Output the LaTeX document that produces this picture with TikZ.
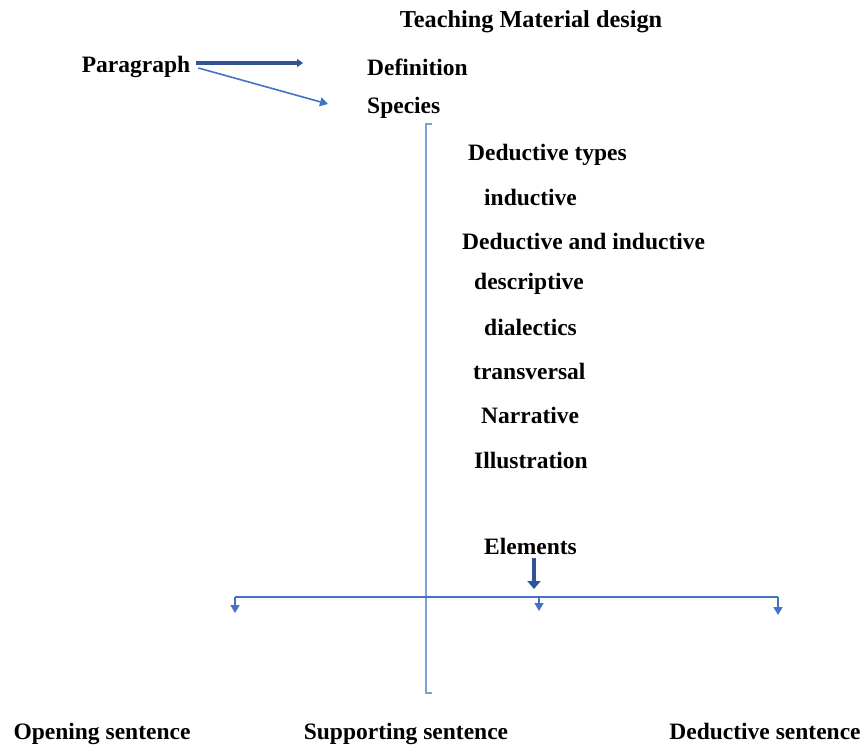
\documentclass[tikz,border=0pt]{standalone}
\usepackage{fontspec}
\setmainfont{Liberation Serif}
\usetikzlibrary{arrows.meta}
\definecolor{linkblue}{HTML}{4472C4}
\definecolor{darkblue}{HTML}{2F5597}
\definecolor{paleblue}{HTML}{7F9FDB}
\tikzset{
    lbl/.style={font=\fontsize{23.5}{28}\selectfont\bfseries, inner sep=0pt},
    thin/.style={draw=linkblue, line width=1.6pt, -{Triangle[width=9pt,length=8pt]}},
    thick/.style={draw=darkblue, line width=3.2pt, -{Triangle[width=8pt,length=6pt]}},
    fat/.style={draw=darkblue, line width=4.5pt, -{Triangle[width=13pt,length=8pt]}}
}
\begin{document}
\begin{tikzpicture}[x=1pt, y=-1pt]
\useasboundingbox (0,0) rectangle (868,748);
\node[lbl, font=\fontsize{24.3}{28}\selectfont\bfseries] (title) at (531,22){Teaching Material design};
\node[lbl] (par) at (136,67){Paragraph};
\node[lbl, anchor=west] (def) at (367,67){Definition};
\node[lbl, anchor=west] (spe) at (367,108){Species};
\coordinate (defend) at (303,63);
\coordinate (speend) at (328,104);
\draw[thick] (par.east |- defend) ++(6,0) -- (defend);
\draw[thin] (par.east) ++(8,1) -- (speend);
% bracket
\draw[draw=paleblue, line width=1.6pt] (432,124)--(426,124)--(426,693)--(432,693);
% types
\foreach \name/\txt/\xcorr in {t1/Deductive types/{468,155}, t2/inductive/{484,197},
    t3/Deductive and inductive/{462,241}, t4/descriptive/{474,284},
    t5/dialectics/{484,327}, t6/transversal/{473,371}, t7/Narrative/{481,415},
    t8/Illustration/{474,460}}
{
    \node[lbl, anchor=west] (\name) at (\xcorr) {\txt};
}
\node[lbl, anchor=west] (elem) at (484,546){Elements};
\coordinate (bar) at (534,589);
\draw[fat] (534,558) -- (bar);
% elements bar
\coordinate (bl) at (235,597);
\coordinate (bm) at (539,597);
\coordinate (br) at (778,597);
\draw[thin,-] (bl)--(br);
\draw[thin] (bl) -- ++(0,16);
\draw[thin] (bm) -- ++(0,14);
\draw[thin] (br) -- ++(0,18);
\node[lbl, anchor=base] (open) at (102,739){Opening sentence};
\node[lbl, anchor=base] (supp) at (406,739){Supporting sentence};
\node[lbl, anchor=base] (dedu) at (765,739){Deductive sentence};
\end{tikzpicture}
\end{document}
